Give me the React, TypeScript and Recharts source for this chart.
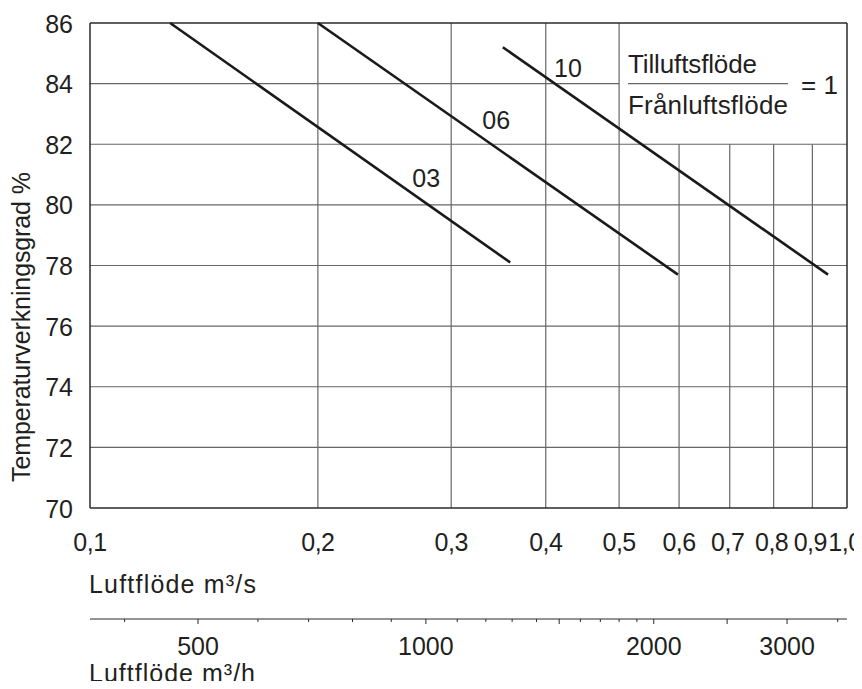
import React from 'react';
import { LineChart, Line, XAxis, YAxis, ReferenceLine, ReferenceDot, Label } from 'recharts';

const FONT = '"Liberation Sans", Arial, Helvetica, sans-serif';
const TXT = '#231f20';
const FS = 25;

// m³/s axis
const X_TICKS = [0.1, 0.2, 0.3, 0.4, 0.5, 0.6, 0.7, 0.8, 0.9, 1.0];
const X_TICK_LABELS = ['0,1', '0,2', '0,3', '0,4', '0,5', '0,6', '0,7', '0,8', '0,9', '1,0'];
const Y_TICKS = [70, 72, 74, 76, 78, 80, 82, 84, 86];

// grid
const FULL_VGRID = [0.2, 0.3, 0.4, 0.5];
const LOWER_VGRID = [0.6, 0.7, 0.8, 0.9];
const FULL_HGRID = [72, 74, 76, 78, 80, 82];
const SHORT_HGRID = [84];

// m³/h axis
const H_TICKS = [400, 500, 600, 700, 800, 900, 1000, 1100, 1200, 1300, 1400, 1500, 1600, 1700, 1800, 1900, 2000, 2500, 3000, 3500];
const H_MAJOR = [500, 1000, 1500, 2000, 2500, 3000];
const H_LABELED = [500, 1000, 2000, 3000];

// curves (x = m³/s, y = %)
const LINE_03 = [{ x: 0.1276, y: 86 }, { x: 0.359, y: 78.1 }];
const LINE_06 = [{ x: 0.2, y: 86 }, { x: 0.598, y: 77.7 }];
const LINE_10 = [{ x: 0.351, y: 85.2 }, { x: 0.944, y: 77.7 }];

const CURVE_LABELS = [
  { name: '03', x: 0.278, y: 80.9 },
  { name: '06', x: 0.344, y: 82.8 },
  { name: '10', x: 0.428, y: 84.5 },
];

const LEGEND_ANCHOR = { x: 0.5137, xEnd: 0.8358, y: 84 };
const LEGEND_NUM = 'Tilluftsflöde';
const LEGEND_DEN = 'Frånluftsflöde';
const LEGEND_EQ = '= 1';

const Y_TITLE = 'Temperaturverkningsgrad %';
const X_TITLE = 'Luftflöde m³/s';
const H_TITLE = 'Luftflöde m³/h';

const GRID = '#666666';
const BORDER = '#2a2a2a';

const XTick = (props: any) => {
  const { x, y, payload } = props;
  const i = X_TICKS.indexOf(payload.value);
  const shift = i >= 6 ? -2 : 0;
  return (
    <text x={x + shift} y={y + 42.5} textAnchor="middle" letterSpacing={-0.5} fontSize={FS} fontFamily={FONT} fill={TXT}>
      {X_TICK_LABELS[i]}
    </text>
  );
};

const YTick = (props: any) => {
  const { y, payload } = props;
  return (
    <text x={73} y={y + 9.5} textAnchor="end" fontSize={FS} fontFamily={FONT} fill={TXT}>
      {payload.value}
    </text>
  );
};

const HTick = (props: any) => {
  const { x, y, payload } = props;
  const v = payload.value;
  const major = H_MAJOR.includes(v);
  return (
    <g>
      <line x1={x} x2={x} y1={y} y2={y + (major ? 5 : 3)} stroke={BORDER} strokeWidth={1} />
      {H_LABELED.includes(v) && (
        <text x={x} y={y + 36} textAnchor="middle" fontSize={FS} fontFamily={FONT} fill={TXT}>
          {v}
        </text>
      )}
    </g>
  );
};

const App = () => {
  return (
    <div style={{ margin: -8, width: 862, height: 689, overflow: 'hidden' }}>
      <LineChart width={862} height={689} margin={{ top: 23, right: 15, bottom: 0, left: 8 }}>
        <XAxis
          dataKey="x"
          type="number"
          scale="log"
          domain={[0.1, 1]}
          ticks={X_TICKS}
          allowDataOverflow
          axisLine={false}
          tickLine={false}
          tickSize={0}
          tickMargin={0}
          height={111}
          interval={0}
          tick={<XTick />}
        >
          <Label
            content={(p: any) => (
              <text x={p.viewBox.x - 1} y={p.viewBox.y + 85} fontSize={FS} textLength={167} lengthAdjust="spacing" fontFamily={FONT} fill={TXT}>
                {X_TITLE}
              </text>
            )}
          />
        </XAxis>
        <XAxis
          xAxisId="h"
          dataKey="h"
          type="number"
          scale="log"
          domain={[360, 3600]}
          ticks={H_TICKS}
          allowDataOverflow
          axisLine={{ stroke: BORDER, strokeWidth: 1.2 }}
          tickLine={false}
          tickSize={0}
          tickMargin={0}
          height={70}
          interval={0}
          tick={<HTick />}
        >
          <Label
            content={(p: any) => (
              <text x={p.viewBox.x - 1} y={p.viewBox.y + 63} fontSize={FS} textLength={166} lengthAdjust="spacing" fontFamily={FONT} fill={TXT}>
                {H_TITLE}
              </text>
            )}
          />
        </XAxis>
        <YAxis
          type="number"
          domain={[70, 86]}
          ticks={Y_TICKS}
          width={82}
          axisLine={false}
          tickLine={false}
          tickSize={0}
          interval={0}
          tick={<YTick />}
        >
          <Label
            content={() => (
              <text
                x={21}
                y={327}
                transform="rotate(-90 21 327)"
                textAnchor="middle"
                dominantBaseline="central"
                fontSize={FS}
                textLength={310}
                lengthAdjust="spacing"
                fontFamily={FONT}
                fill={TXT}
              >
                {Y_TITLE}
              </text>
            )}
          />
        </YAxis>

        {FULL_VGRID.map((v) => (
          <ReferenceLine key={'fv' + v} segment={[{ x: v, y: 70 }, { x: v, y: 86 }]} stroke={GRID} strokeWidth={1.2} />
        ))}
        {LOWER_VGRID.map((v) => (
          <ReferenceLine key={'lv' + v} segment={[{ x: v, y: 70 }, { x: v, y: 82 }]} stroke={GRID} strokeWidth={1.2} />
        ))}
        {FULL_HGRID.map((v) => (
          <ReferenceLine key={'fh' + v} segment={[{ x: 0.1, y: v }, { x: 1, y: v }]} stroke={GRID} strokeWidth={1.2} />
        ))}
        {SHORT_HGRID.map((v) => (
          <ReferenceLine key={'sh' + v} segment={[{ x: 0.1, y: v }, { x: 0.5, y: v }]} stroke={GRID} strokeWidth={1.2} />
        ))}
        {/* fraction bar */}
        <ReferenceLine
          segment={[{ x: LEGEND_ANCHOR.x, y: LEGEND_ANCHOR.y }, { x: LEGEND_ANCHOR.xEnd, y: LEGEND_ANCHOR.y }]}
          stroke={GRID}
          strokeWidth={1.2}
        />
        {/* border */}
        <ReferenceLine segment={[{ x: 0.1, y: 70 }, { x: 1, y: 70 }]} stroke={BORDER} strokeWidth={1.5} />
        <ReferenceLine segment={[{ x: 0.1, y: 86 }, { x: 1, y: 86 }]} stroke={BORDER} strokeWidth={1.5} />
        <ReferenceLine segment={[{ x: 0.1, y: 70 }, { x: 0.1, y: 86 }]} stroke={BORDER} strokeWidth={1.5} />
        <ReferenceLine segment={[{ x: 1, y: 70 }, { x: 1, y: 86 }]} stroke={BORDER} strokeWidth={1.5} />

        <Line data={LINE_03} dataKey="y" type="linear" stroke="#1a1a1a" strokeWidth={2.6} dot={false} activeDot={false} isAnimationActive={false} />
        <Line data={LINE_06} dataKey="y" type="linear" stroke="#1a1a1a" strokeWidth={2.6} dot={false} activeDot={false} isAnimationActive={false} />
        <Line data={LINE_10} dataKey="y" type="linear" stroke="#1a1a1a" strokeWidth={2.6} dot={false} activeDot={false} isAnimationActive={false} />

        {CURVE_LABELS.map((c) => (
          <ReferenceDot
            key={c.name}
            x={c.x}
            y={c.y}
            r={0}
            shape={(p: any) => (
              <text x={p.cx} y={p.cy} textAnchor="middle" dominantBaseline="central" fontSize={FS} fontFamily={FONT} fill={TXT}>
                {c.name}
              </text>
            )}
          />
        ))}

        <ReferenceDot
          x={LEGEND_ANCHOR.x}
          y={LEGEND_ANCHOR.y}
          r={0}
          shape={(p: any) => (
            <g>
              <text x={p.cx} y={p.cy - 11} fontSize={26} textLength={129} lengthAdjust="spacing" fontFamily={FONT} fill={TXT}>
                {LEGEND_NUM}
              </text>
              <text x={p.cx} y={p.cy + 30} fontSize={26} textLength={160} lengthAdjust="spacing" fontFamily={FONT} fill={TXT}>
                {LEGEND_DEN}
              </text>
              <text x={p.cx + 173} y={p.cy + 1} dominantBaseline="central" fontSize={26} fontFamily={FONT} fill={TXT}>
                {LEGEND_EQ}
              </text>
            </g>
          )}
        />
      </LineChart>
    </div>
  );
};

export default App;
